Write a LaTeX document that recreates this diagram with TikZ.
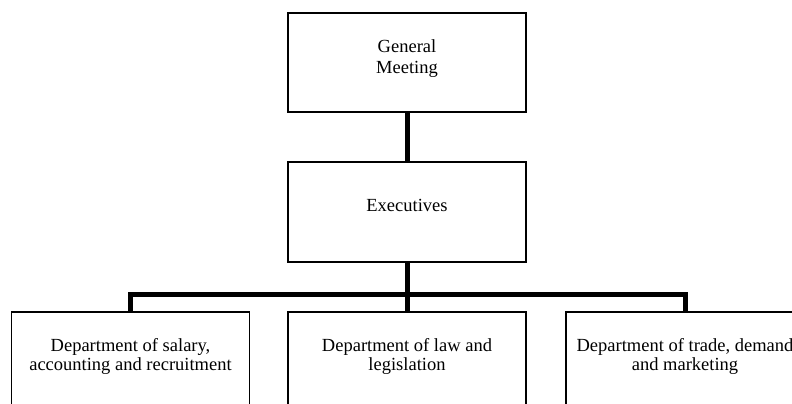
\documentclass[tikz,border=0pt]{standalone}
\usepackage{fontspec}
\setmainfont{Liberation Serif}
\begin{document}
\begin{tikzpicture}[x=1pt,y=1pt,
  box/.style={draw=black,line width=1.8pt,fill=white,inner sep=0pt,minimum width=238pt},
  txt/.style={anchor=base,inner sep=0pt,font=\fontsize{18.5}{20.5}\selectfont},
  btxt/.style={anchor=base,inner sep=0pt,font=\fontsize{18.5}{19}\selectfont},
  conn/.style={draw=black,line width=5pt,line join=miter}]
\useasboundingbox (0,0) rectangle (792,-404);
\clip (0,0) rectangle (792,-404);
% boxes
\node[box,minimum height=99pt] (gm) at (407,-62.5) {};
\node[box,minimum height=100pt] (ex) at (407,-212) {};
\node[box,minimum height=120pt,anchor=north] (sal) at (130.5,-311) {};
\node[box,minimum height=120pt,anchor=north] (law) at (407,-311) {};
\node[box,minimum height=120pt,anchor=north] (trd) at (685,-311) {};
% connectors
\draw[conn] (gm.south) -- (ex.north);
\draw[conn] (ex.south) -- (law.north);
\coordinate (busl) at ([yshift=17pt]sal.north);
\draw[conn] (sal.north) -- (busl) -| (trd.north);
% texts
\node[txt] (gmt) at (407,-52.7) {\begin{tabular}[t]{@{}c@{}}General\\Meeting\end{tabular}};
\node[txt] (ext) at (407,-211) {Executives};
\node[btxt] (salt) at (130.5,-351.7) {\begin{tabular}[t]{@{}c@{}}Department of salary,\\accounting and recruitment\end{tabular}};
\node[btxt] (lawt) at (407,-351.7) {\begin{tabular}[t]{@{}c@{}}Department of law and\\legislation\end{tabular}};
\node[btxt] (trdt) at (685,-351.7) {\begin{tabular}[t]{@{}c@{}}Department of trade, demand\\and marketing\end{tabular}};
\end{tikzpicture}
\end{document}
